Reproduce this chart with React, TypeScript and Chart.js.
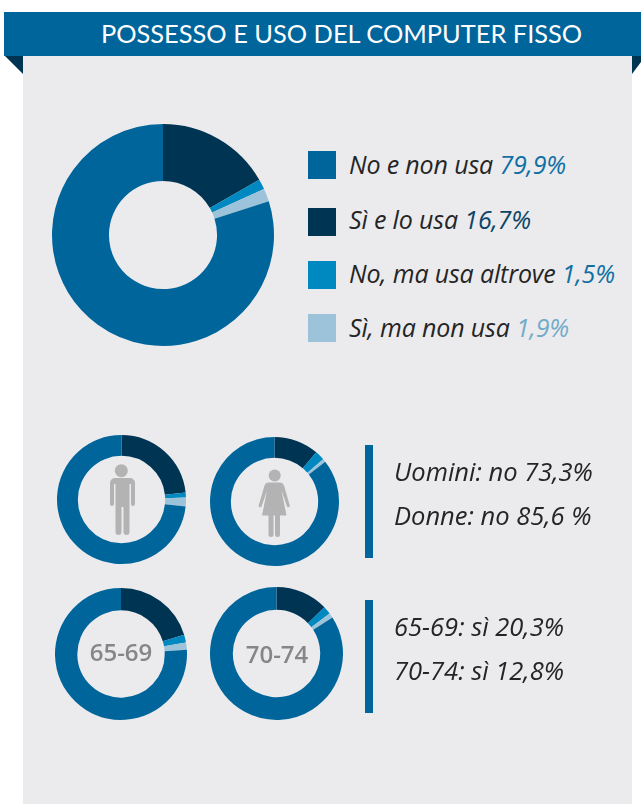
import React, { useEffect, useRef } from "react";
import { Chart, registerables } from "chart.js";

Chart.register(...registerables);

const categories = ["Sì e lo usa", "No, ma usa altrove", "Sì, ma non usa", "No e non usa"];
const colors = ["#003453", "#0088c0", "#9cc3da", "#00659b"];
const totalValues = [16.7, 1.5, 1.9, 79.9];
const menValues = [23.3, 1.2, 2.2, 73.3];
const womenValues = [11.2, 2.4, 0.8, 85.6];
const age6569Values = [20.3, 1.9, 1.8, 76.0];
const age7074Values = [12.8, 1.9, 1.2, 84.1];

const legendLabels = ["No e non usa", "Sì e lo usa", "No, ma usa altrove", "Sì, ma non usa"];
const legendValues = ["79,9%", "16,7%", "1,5%", "1,9%"];
const legendColors = ["#00659b", "#003453", "#0088c0", "#9cc3da"];
const legendTextColors = ["#0f70a3", "#0b4566", "#0f70a3", "#72abca"];
const legendSquareTops = [151, 208, 261, 314];
const legendTextTops = [149, 204, 258, 312];

const FONT = "'Open Sans', sans-serif";

function Donut({ values, cx, cy, r, inner }: { values: number[]; cx: number; cy: number; r: number; inner: number }) {
  const ref = useRef<HTMLCanvasElement>(null);
  useEffect(() => {
    const chart = new Chart(ref.current!, {
      type: "doughnut",
      data: {
        labels: categories,
        datasets: [{ data: values, backgroundColor: colors, borderWidth: 0 }],
      },
      options: {
        responsive: false,
        animation: false,
        radius: r,
        cutout: inner,
        layout: { padding: 0 },
        plugins: { legend: { display: false }, tooltip: { enabled: false } },
      } as any,
    });
    return () => chart.destroy();
  }, []);
  const size = Math.ceil(2 * r) + 4;
  return (
    <canvas
      ref={ref}
      width={size}
      height={size}
      style={{ position: "absolute", left: cx - size / 2, top: cy - size / 2, width: size, height: size }}
    />
  );
}

const textStyle: React.CSSProperties = {
  position: "absolute",
  fontFamily: FONT,
  fontStyle: "italic",
  fontSize: 25.5,
  lineHeight: "30px",
  whiteSpace: "nowrap",
  color: "#252525",
};

function Label({ x, y, text }: { x: number; y: number; text: string }) {
  return <div style={{ ...textStyle, left: x, top: y }}>{text}</div>;
}

function AgeLabel({ cx, cy, text }: { cx: number; cy: number; text: string }) {
  return (
    <div
      style={{
        position: "absolute",
        left: cx - 50,
        top: cy - 20,
        width: 100,
        height: 40,
        lineHeight: "40px",
        textAlign: "center",
        fontFamily: FONT,
        fontWeight: 600,
        fontSize: 24,
        color: "#868686",
      }}
    >
      {text}
    </div>
  );
}

export default function App() {
  return (
    <div style={{ position: "absolute", left: 0, top: 0, width: 641, height: 804, background: "#fff", overflow: "hidden" }}>
      <div style={{ position: "absolute", left: 23, top: 55, width: 609, height: 749, background: "#ebebee" }} />
      <svg width={641} height={804} style={{ position: "absolute", left: 0, top: 0 }}>
        <polygon points="4,55 23,55 23,74" fill="#003453" />
        <polygon points="632,55 641,55 641,62 632,74" fill="#003453" />
      </svg>
      <div style={{ position: "absolute", left: 4, top: 12, width: 637, height: 44, background: "#00659b" }} />
      <div
        style={{
          position: "absolute",
          left: 101,
          top: 12,
          height: 44,
          lineHeight: "42px",
          fontFamily: "Lato, sans-serif",
          fontSize: 25.4,
          color: "#fff",
          whiteSpace: "nowrap",
        }}
      >
        POSSESSO E USO DEL COMPUTER FISSO
      </div>

      <Donut values={totalValues} cx={163} cy={235} r={111} inner={55} />
      <Donut values={menValues} cx={121} cy={499} r={64.5} inner={45} />
      <Donut values={womenValues} cx={274.5} cy={501} r={64.5} inner={45} />
      <Donut values={age6569Values} cx={120.8} cy={653.5} r={66} inner={45} />
      <Donut values={age7074Values} cx={276} cy={653.5} r={66.5} inner={45} />

      {legendLabels.map((label, i) => (
        <React.Fragment key={label}>
          <div style={{ position: "absolute", left: 308, top: legendSquareTops[i], width: 28, height: 28, background: legendColors[i] }} />
          <div style={{ ...textStyle, fontSize: 25, letterSpacing: -0.15, left: 349, top: legendTextTops[i] }}>
            {label} <span style={{ color: legendTextColors[i] }}>{legendValues[i]}</span>
          </div>
        </React.Fragment>
      ))}

      <svg width={641} height={804} style={{ position: "absolute", left: 0, top: 0 }} fill="#b3b3b3">
        {/* man */}
        <circle cx={121.3} cy={470.7} r={6.5} />
        <path d="M113 478 h17 a5 5 0 0 1 5 5 v21 a2 2 0 0 1 -4 0 v-20 h-1.5 v48 a3 3 0 0 1 -6 0 v-25 h-2 v25 a3 3 0 0 1 -6 0 v-48 h-1.5 v20 a2 2 0 0 1 -4 0 v-21 a5 5 0 0 1 5 -5 z" />
        {/* woman */}
        <circle cx={274.7} cy={475.5} r={6} />
        <path d="M269 482.5 h11.5 a4 4 0 0 1 3.5 3 l5.8 20 a1.5 1.5 0 0 1 -2.8 1 l-5.5 -16 l5 25 h-6.5 v19 a2.4 2.4 0 0 1 -5 0 v-19 h-1.5 v19 a2.4 2.4 0 0 1 -5 0 v-19 h-6.5 l5 -25 l-5.5 16 a1.5 1.5 0 0 1 -2.8 -1 l5.8 -20 a4 4 0 0 1 3.5 -3 z" />
      </svg>

      <AgeLabel cx={121} cy={652} text="65-69" />
      <AgeLabel cx={277} cy={654} text="70-74" />

      <div style={{ position: "absolute", left: 365, top: 445, width: 8, height: 113, background: "#00659b" }} />
      <div style={{ position: "absolute", left: 365, top: 600, width: 8, height: 113, background: "#00659b" }} />

      <Label x={394} y={456} text="Uomini: no 73,3%" />
      <Label x={394} y={500} text="Donne: no 85,6 %" />
      <Label x={394} y={611} text="65-69: sì 20,3%" />
      <Label x={394} y={655} text="70-74: sì 12,8%" />
    </div>
  );
}
